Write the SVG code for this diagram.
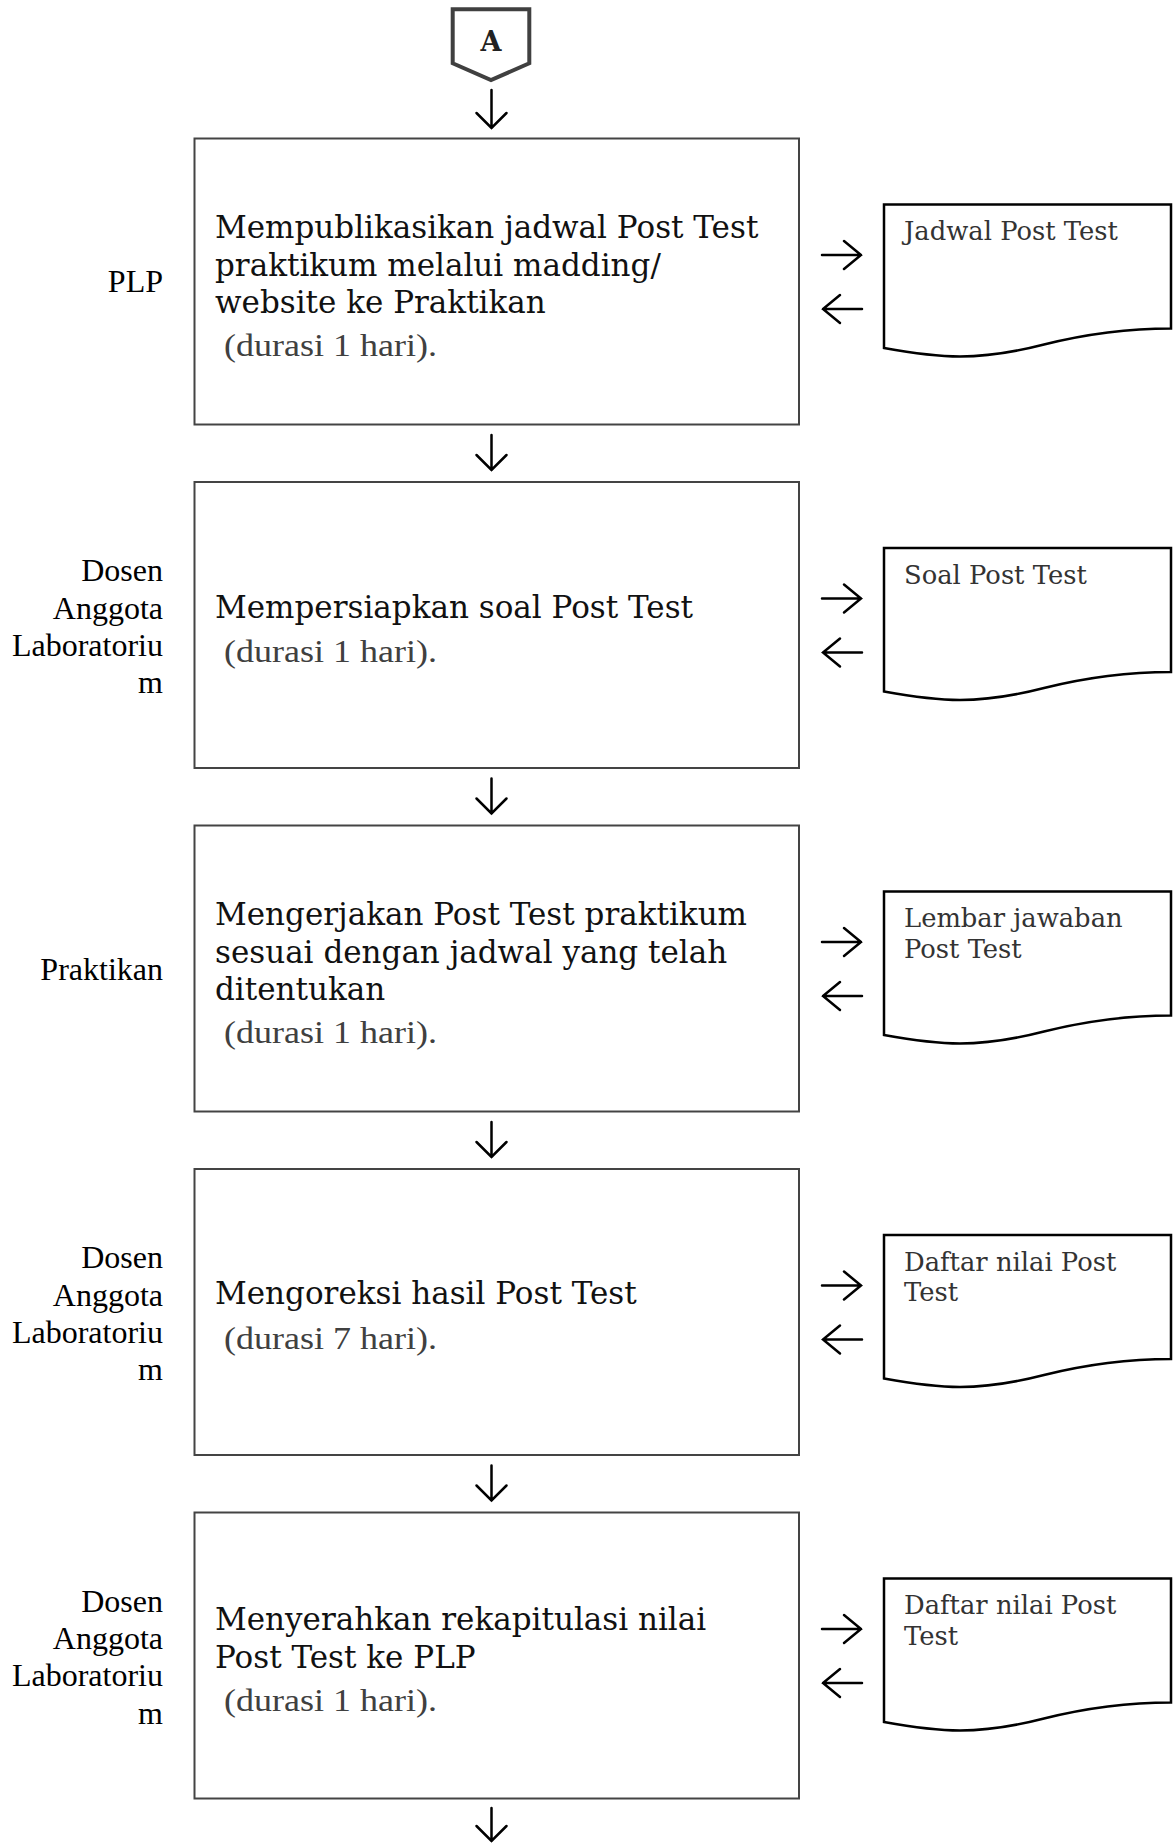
<svg xmlns="http://www.w3.org/2000/svg" xmlns:xlink="http://www.w3.org/1999/xlink" width="1173" height="1843" viewBox="0 0 1173 1843">
<style>
.box{fill:#fff;stroke:#444;stroke-width:2}
.doc{fill:#fff;stroke:#000;stroke-width:2.5}
.main{font-family:"DejaVu Serif",serif;font-size:31px;fill:#111}
.dur{font-family:"Liberation Serif",serif;font-size:32px;fill:#404040}
.lbl{font-family:"Liberation Serif",serif;font-size:32px;fill:#000;text-anchor:end}
.dtx{font-family:"DejaVu Serif",serif;font-size:25.8px;fill:#333}
.arr{fill:none;stroke:#000;stroke-width:2.5;stroke-linecap:round;stroke-linejoin:miter}
</style>
<defs>
<path id="docShape" d="M0,0 H287 V124 C240,124 200,130 160,140 C125,149 100,152 76,152 C50,152 25,148 0,143.5 Z"/>
</defs>
<rect width="1173" height="1843" fill="#fff"/>

<g id="connector-A">
<polygon points="452.7,9.3 529.3,9.3 529.3,63.3 491,80 452.7,63.3" fill="#fff" stroke="#404040" stroke-width="4" stroke-linejoin="miter"/>
<text x="491" y="51" text-anchor="middle" font-family="DejaVu Serif,serif" font-weight="bold" font-size="27" fill="#222">A</text>
</g>

<g id="connectors">
<path class="arr" d="M491.5,90 V128 M476.5,113 L491.5,128 L506.5,113"/>
<path class="arr" d="M491.5,435 V470 M476.5,455 L491.5,470 L506.5,455"/>
<path class="arr" d="M491.5,778.5 V813.5 M476.5,798.5 L491.5,813.5 L506.5,798.5"/>
<path class="arr" d="M491.5,1122 V1157 M476.5,1142 L491.5,1157 L506.5,1142"/>
<path class="arr" d="M491.5,1465.5 V1500.5 M476.5,1485.5 L491.5,1500.5 L506.5,1485.5"/>
<path class="arr" d="M491.5,1808 V1841 M476.5,1826 L491.5,1841 L506.5,1826"/>

<path class="arr" d="M822,255 H861 M844,241 L861,255 L844,269"/>
<path class="arr" d="M862,309 H823 M840,295 L823,309 L840,323"/>
<path class="arr" d="M822,598.5 H861 M844,584.5 L861,598.5 L844,612.5"/>
<path class="arr" d="M862,652.5 H823 M840,638.5 L823,652.5 L840,666.5"/>
<path class="arr" d="M822,942 H861 M844,928 L861,942 L844,956"/>
<path class="arr" d="M862,996 H823 M840,982 L823,996 L840,1010"/>
<path class="arr" d="M822,1285.5 H861 M844,1271.5 L861,1285.5 L844,1299.5"/>
<path class="arr" d="M862,1339.5 H823 M840,1325.5 L823,1339.5 L840,1353.5"/>
<path class="arr" d="M822,1629 H861 M844,1615 L861,1629 L844,1643"/>
<path class="arr" d="M862,1683 H823 M840,1669 L823,1683 L840,1697"/>
</g>

<g id="step1">
<text class="lbl" x="163" y="292">PLP</text>
<rect class="box" x="194.5" y="138.5" width="604.5" height="286"/>
<text class="main" x="215" y="238">Mempublikasikan jadwal Post Test</text>
<text class="main" x="215" y="275.5">praktikum melalui madding/</text>
<text class="main" x="215" y="313">website ke Praktikan</text>
<text class="dur" x="224" y="356" textLength="213" lengthAdjust="spacingAndGlyphs">(durasi 1 hari).</text>
</g>
<g id="doc1">
<use href="#docShape" class="doc" transform="translate(884,204.5)"/>
<text class="dtx" x="904" y="240">Jadwal Post Test</text>
</g>

<g id="step2">
<text class="lbl" x="163" y="581">Dosen</text>
<text class="lbl" x="163" y="618.5">Anggota</text>
<text class="lbl" x="163" y="655.5">Laboratoriu</text>
<text class="lbl" x="163" y="693">m</text>
<rect class="box" x="194.5" y="482" width="604.5" height="286"/>
<text class="main" x="215" y="618">Mempersiapkan soal Post Test</text>
<text class="dur" x="224" y="662" textLength="213" lengthAdjust="spacingAndGlyphs">(durasi 1 hari).</text>
</g>
<g id="doc2">
<use href="#docShape" class="doc" transform="translate(884,548)"/>
<text class="dtx" x="904" y="583.5">Soal Post Test</text>
</g>

<g id="step3">
<text class="lbl" x="163" y="980">Praktikan</text>
<rect class="box" x="194.5" y="825.5" width="604.5" height="286"/>
<text class="main" x="215" y="925">Mengerjakan Post Test praktikum</text>
<text class="main" x="215" y="962.5">sesuai dengan jadwal yang telah</text>
<text class="main" x="215" y="1000">ditentukan</text>
<text class="dur" x="224" y="1043" textLength="213" lengthAdjust="spacingAndGlyphs">(durasi 1 hari).</text>
</g>
<g id="doc3">
<use href="#docShape" class="doc" transform="translate(884,891.5)"/>
<text class="dtx" x="904" y="927">Lembar jawaban</text>
<text class="dtx" x="904" y="957.5">Post Test</text>
</g>

<g id="step4">
<text class="lbl" x="163" y="1268">Dosen</text>
<text class="lbl" x="163" y="1305.5">Anggota</text>
<text class="lbl" x="163" y="1342.5">Laboratoriu</text>
<text class="lbl" x="163" y="1380">m</text>
<rect class="box" x="194.5" y="1169" width="604.5" height="286"/>
<text class="main" x="215" y="1304">Mengoreksi hasil Post Test</text>
<text class="dur" x="224" y="1349" textLength="213" lengthAdjust="spacingAndGlyphs">(durasi 7 hari).</text>
</g>
<g id="doc4">
<use href="#docShape" class="doc" transform="translate(884,1235)"/>
<text class="dtx" x="904" y="1270.5">Daftar nilai Post</text>
<text class="dtx" x="904" y="1301">Test</text>
</g>

<g id="step5">
<text class="lbl" x="163" y="1611.5">Dosen</text>
<text class="lbl" x="163" y="1649">Anggota</text>
<text class="lbl" x="163" y="1686">Laboratoriu</text>
<text class="lbl" x="163" y="1723.5">m</text>
<rect class="box" x="194.5" y="1512.5" width="604.5" height="286"/>
<text class="main" x="215" y="1630">Menyerahkan rekapitulasi nilai</text>
<text class="main" x="215" y="1667.5">Post Test ke PLP</text>
<text class="dur" x="224" y="1711" textLength="213" lengthAdjust="spacingAndGlyphs">(durasi 1 hari).</text>
</g>
<g id="doc5">
<use href="#docShape" class="doc" transform="translate(884,1578.5)"/>
<text class="dtx" x="904" y="1614">Daftar nilai Post</text>
<text class="dtx" x="904" y="1644.5">Test</text>
</g>
</svg>
